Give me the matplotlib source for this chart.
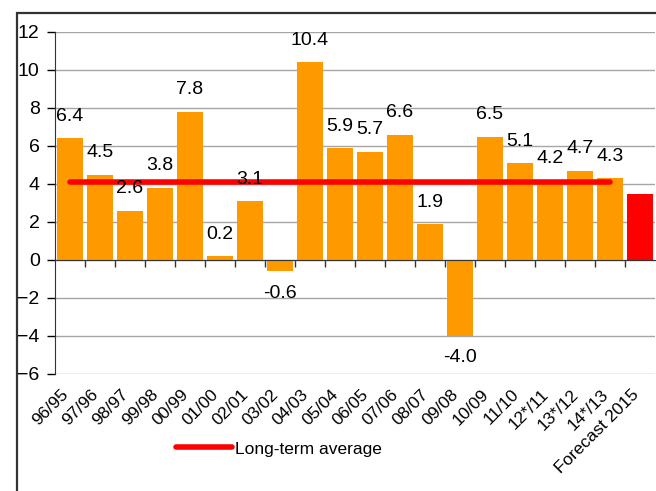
import numpy as np
import matplotlib
matplotlib.use("Agg")
import matplotlib.pyplot as plt
from matplotlib.patches import Rectangle
import matplotlib.transforms as mtransforms

plt.rcParams['font.family'] = ['Liberation Sans', 'DejaVu Sans']

seasons = ["96/95", "97/96", "98/97", "99/98", "00/99", "01/00", "02/01", "03/02",
           "04/03", "05/04", "06/05", "07/06", "08/07", "09/08", "10/09", "11/10",
           "12*/11", "13*/12", "14*/13", "Forecast 2015"]
growth = [6.4, 4.5, 2.6, 3.8, 7.8, 0.2, 3.1, -0.6, 10.4, 5.9, 5.7, 6.6, 1.9,
          -4.0, 6.5, 5.1, 4.2, 4.7, 4.3, 3.5]
show_label = [True] * 19 + [False]
long_term_avg = 4.1

W, H = 656, 491
fig = plt.figure(figsize=(W / 100, H / 100), dpi=100)
ax = fig.add_axes([55 / W, 117 / H, 600 / W, 342 / H])

x = np.arange(len(seasons))
colors = ["#FF9900"] * (len(seasons) - 1) + ["#FF0000"]
ax.bar(x, growth, width=0.87, color=colors, zorder=2)

# long-term average line across the historic seasons
avg_line, = ax.plot([x[0], x[-2]], [long_term_avg, long_term_avg], color="#FF0000",
                    lw=4, solid_capstyle="round", zorder=3, label="Long-term average")

# value labels
for xi, v, s in zip(x, growth, show_label):
    if not s:
        continue
    if v >= 0:
        ax.text(xi, v + 0.7, f"{v:.1f}", ha="center", va="bottom", fontsize=14)
    else:
        ax.text(xi, v - 0.7, f"{v:.1f}", ha="center", va="top", fontsize=14)

ax.set_xlim(-0.5, len(seasons) - 0.5)
ax.set_ylim(-6, 12)
ax.set_yticks(np.arange(-6, 13, 2))
ax.grid(axis="y", color="#A6A6A6", lw=1, zorder=0)
ax.tick_params(axis="y", labelsize=14, length=6, width=1, direction="out", pad=5)

for s in ["top", "right"]:
    ax.spines[s].set_visible(False)
ax.spines["left"].set_color("#333333")
ax.spines["bottom"].set_position(("data", 0))
ax.spines["bottom"].set_color("#333333")
ax.spines["bottom"].set_zorder(4)

# ticks at category borders on the zero line, labels under the plot
ax.set_xticks(x[1:] - 0.5)
ax.set_xticklabels([])
ax.tick_params(axis="x", length=5, width=1, direction="out", color="#333333")
trans = mtransforms.blended_transform_factory(ax.transData, ax.transAxes)
off = mtransforms.ScaledTranslation(-4 / 100, -18 / 100, fig.dpi_scale_trans)
for xi, lab in zip(x, seasons):
    ax.text(xi, 0, lab, transform=trans + off, rotation=45, rotation_mode="anchor",
            ha="right", va="center", fontsize=12.5)

fig.legend(handles=[avg_line], loc="center left", bbox_to_anchor=(176 / W, 1 - 449 / H),
           frameon=False, fontsize=12.5, handlelength=3.2, handletextpad=0.2,
           borderpad=0, borderaxespad=0)

# outer frame
fig.patches.append(Rectangle((16.5 / W, -0.1), 1.2, 1 - 12.5 / H + 0.1,
                             transform=fig.transFigure, fill=False,
                             edgecolor="#333333", lw=1.6))

fig.savefig("out.png", dpi=100)
